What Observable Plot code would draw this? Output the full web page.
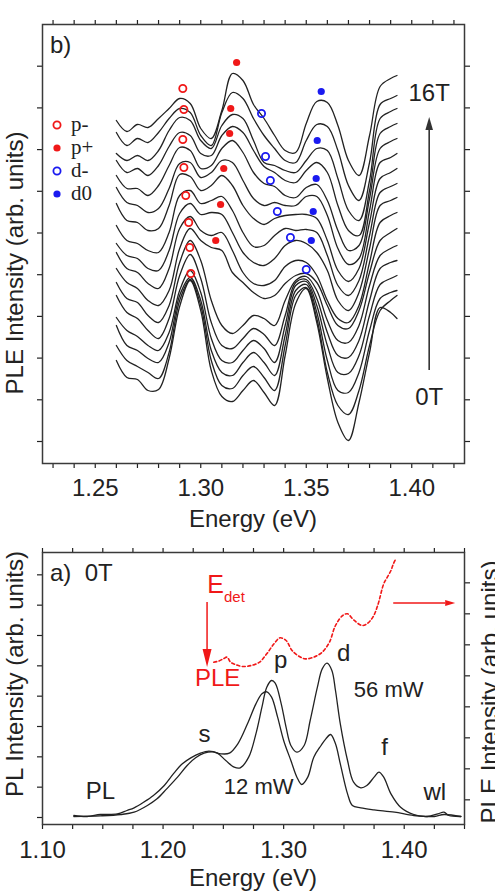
<!DOCTYPE html>
<html>
<head>
<meta charset="utf-8">
<script src="https://cdn.jsdelivr.net/npm/d3@7"></script>
<script src="https://cdn.jsdelivr.net/npm/@observablehq/plot@0.6"></script>
<style>
  html, body { margin: 0; padding: 0; background: #fff; }
  #figure { position: relative; width: 495px; height: 894px; overflow: hidden; background: #fff; }
  #figure svg { position: absolute; left: 0; overflow: visible; }
</style>
</head>
<body>
<div id="figure"></div>
<script>
const SANS = "'Liberation Sans', Arial, Helvetica, sans-serif";
const SERIF = "'Liberation Serif', 'Times New Roman', serif";
const RED = "#f01818";
const BLUE = "#1a1af0";
const INK = "#222";

// ---------- b) PLE spectra from 0 T (index 0) to 16 T (index 16), vertically offset ----------
const pleEnergy = [1.260,1.265,1.270,1.275,1.280,1.285,1.290,1.295,1.300,1.305,1.310,1.315,1.320,1.325,
                   1.330,1.335,1.340,1.345,1.350,1.355,1.360,1.365,1.370,1.375,1.380,1.385,1.390,1.393];
const pleSpectra = [
  [81,64,62,51,52,83,135,161,131,71,45,40,51,61,49,36,86,138,153,119,63,19,1,39,89,134,129,123],
  [96,81,75,69,63,89,141,162,136,81,56,53,66,75,64,51,96,146,154,123,69,36,27,51,96,131,141,146],
  [116,96,91,83,79,99,146,164,141,91,69,66,79,89,79,66,106,151,157,129,81,51,49,69,111,143,149,151],
  [124,111,105,96,91,109,151,171,149,103,81,79,91,101,93,79,116,156,160,136,96,69,68,86,126,157,163,166],
  [146,129,123,111,103,123,166,187,163,119,96,93,103,113,107,96,126,159,162,143,109,86,84,101,141,173,179,181],
  [159,143,139,126,119,136,179,201,181,141,116,108,116,126,123,116,141,161,165,151,121,101,99,116,156,186,193,196],
  [173,159,153,141,136,151,193,213,201,194,191,169,159,149,143,146,158,166,168,159,136,116,113,131,169,201,209,213],
  [189,173,169,158,153,173,213,225,211,206,209,191,169,158,156,161,175,181,179,166,141,123,119,136,179,219,226,229],
  [198,186,183,173,171,191,228,238,227,229,227,209,189,179,176,183,196,201,198,189,171,141,131,149,193,236,241,244],
  [216,201,198,191,189,209,246,251,238,241,245,231,209,195,196,206,213,211,212,209,186,156,146,161,206,249,255,258],
  [238,221,219,211,213,236,267,265,251,256,266,256,236,223,217,223,226,227,227,223,201,171,160,173,219,263,269,273],
  [254,239,236,229,233,253,278,279,264,269,281,279,261,243,236,239,236,236,245,245,226,193,177,183,231,279,284,288],
  [266,253,253,246,256,276,294,291,273,276,293,301,289,269,258,255,246,244,254,257,241,211,191,196,243,293,300,303],
  [281,269,273,266,276,295,309,306,288,286,306,315,309,291,275,269,261,259,271,279,269,236,211,206,251,308,315,318],
  [288,281,286,281,291,311,324,321,301,293,316,327,323,301,279,276,271,269,281,293,291,263,231,221,261,323,330,333],
  [309,296,303,299,309,323,333,329,306,296,329,349,343,323,306,293,281,279,301,317,315,291,256,241,279,337,343,346],
  [321,310,317,314,323,333,343,338,313,303,331,368,361,337,323,306,291,289,318,340,339,316,281,266,306,355,363,366]
];

// Peak assignments: [field (T), energy (eV), intensity]
const pMinusPeaks = [[16,1.2915,353],[14,1.2920,332],[12,1.2915,302],[10,1.2920,274],
                     [8,1.2929,246],[6,1.2943,219],[4,1.2948,194],[2,1.2953,168]];
const pPlusPeaks  = [[16,1.3170,379],[14,1.3142,333],[12,1.3137,308],[10,1.3109,273],
                     [8,1.3094,237],[6,1.3071,201]];
const dMinusPeaks = [[16,1.3288,328],[14,1.3307,285],[12,1.3330,261],[10,1.3363,230],
                     [8,1.3425,204],[6,1.3500,172]];
const dZeroPeaks  = [[16,1.3571,350],[14,1.3552,301],[12,1.3547,263],[10,1.3533,230],
                     [8,1.3524,201]];

const peakSeries = [
  {label: "p-", data: pMinusPeaks, color: RED,  filled: false},
  {label: "p+", data: pPlusPeaks,  color: RED,  filled: true},
  {label: "d-", data: dMinusPeaks, color: BLUE, filled: false},
  {label: "d0", data: dZeroPeaks,  color: BLUE, filled: true}
];

// ---------- a) PL at two excitation powers and PLE at 0 T ----------
const pl56Energy = [1.126,1.137,1.148,1.162,1.170,1.176,1.184,1.192,1.201,1.209,1.216,1.223,1.231,1.238,1.245,
                    1.252,1.259,1.264,1.271,1.277,1.282,1.286,1.290,1.293,1.298,1.302,1.306,1.311,1.317,1.322,
                    1.328,1.332,1.336,1.340,1.343,1.347,1.353,1.358,1.364,1.369,1.375,1.379,1.383,1.389,1.397,
                    1.408,1.419,1.428,1.433,1.437,1.447];
const pl56 = [6,3,9,11,21,29,46,66,96,133,161,179,193,199,193,171,151,149,181,251,331,391,411,403,341,271,216,
              196,216,291,391,446,463,441,381,281,171,106,89,96,121,136,121,71,31,9,3,11,16,6,3];

const pl12Energy = [1.126,1.148,1.165,1.176,1.187,1.195,1.203,1.212,1.220,1.227,1.234,1.241,1.248,1.255,1.262,
                    1.270,1.277,1.282,1.286,1.290,1.295,1.300,1.306,1.311,1.315,1.320,1.325,1.331,1.335,1.339,
                    1.343,1.347,1.353,1.357,1.364,1.375,1.392,1.408,1.425,1.433,1.447];
const pl12 = [3,5,9,16,36,56,86,121,156,179,193,197,191,193,221,281,341,371,377,361,301,231,171,121,99,121,181,
              216,236,249,221,161,71,36,29,23,16,6,3,9,3];

const ple0Energy = [1.242,1.246,1.250,1.253,1.256,1.260,1.266,1.273,1.280,1.286,1.292,1.297,1.302,1.307,1.313,
                    1.318,1.325,1.332,1.338,1.343,1.349,1.353,1.358,1.365,1.369,1.374,1.378,1.383,1.386,1.389,
                    1.391,1.393];
const ple0 = [466,469,476,481,466,459,453,456,466,491,521,539,531,501,483,476,481,496,526,576,606,611,593,576,
              581,601,636,701,721,741,761,776];

const plLabels = [
  {text: "p", E: 1.2975, I: 471, size: 24},
  {text: "d", E: 1.3498, I: 492, size: 24},
  {text: "s", E: 1.2344, I: 249, size: 24},
  {text: "f", E: 1.3838, I: 210, size: 24},
  {text: "56 mW", E: 1.3871, I: 384, size: 22},
  {text: "12 mW", E: 1.2793, I: 93, size: 22},
  {text: "PL", E: 1.1481, I: 78, size: 24},
  {text: "wl", E: 1.4253, I: 75, size: 24}
];

// ---------- helpers ----------
const tickLabel = step => d => (Math.round(d * 1000) % step === 0 ? d.toFixed(2) : "");
const noLabel = () => "";

function arrow(svg, x1, y1, x2, y2, color, headLen, headHalf, width) {
  const a = Math.atan2(y2 - y1, x2 - x1);
  const bx = x2 - headLen * Math.cos(a), by = y2 - headLen * Math.sin(a);
  const px = -Math.sin(a) * headHalf, py = Math.cos(a) * headHalf;
  const g = d3.select(svg).append("g");
  g.append("line").attr("x1", x1).attr("y1", y1).attr("x2", bx).attr("y2", by)
    .attr("stroke", color).attr("stroke-width", width);
  g.append("path").attr("d", `M${x2},${y2}L${bx + px},${by + py}L${bx - px},${by - py}Z`).attr("fill", color);
}

function label(svg, text, x, y, opts = {}) {
  const t = d3.select(svg).append("text")
    .attr("transform", `translate(${x},${y})${opts.rotate ? ` rotate(${opts.rotate})` : ""}`)
    .attr("text-anchor", opts.anchor || "middle")
    .attr("dy", opts.dy || "0.35em")
    .attr("font-family", opts.family || SANS)
    .attr("font-size", opts.size || 24)
    .attr("fill", opts.color || INK)
    .style("white-space", "pre")
    .text(text);
  return t;
}

const fig = document.getElementById("figure");
const plotStyle = {background: "transparent", color: INK, fontFamily: SANS, overflow: "visible"};

// ---------- panel b) ----------
const pleRows = pleSpectra.flatMap((vals, field) => vals.map((I, i) => ({E: pleEnergy[i], I, field})));
const topXTicks = d3.range(123, 143).map(k => k / 100);
const topYTicks = d3.range(10).map(k => k * 41.7);

const topPlot = Plot.plot({
  width: 495, height: 530,
  marginLeft: 42, marginRight: 31, marginTop: 24, marginBottom: 67,
  x: {domain: [1.225, 1.425]},
  y: {domain: [-22, 417]},
  style: plotStyle,
  marks: [
    Plot.axisX({anchor: "bottom", ticks: topXTicks, tickFormat: tickLabel(50), tickSize: 5, tickPadding: 10,
                fontSize: 24, label: null, strokeWidth: 1.2}),
    Plot.axisX({anchor: "top", ticks: topXTicks, tickFormat: noLabel, tickSize: 5, label: null, strokeWidth: 1.2}),
    Plot.axisY({anchor: "left", ticks: topYTicks, tickFormat: noLabel, tickSize: 5, label: null, strokeWidth: 1.2}),
    Plot.axisY({anchor: "right", ticks: topYTicks, tickFormat: noLabel, tickSize: 5, label: null, strokeWidth: 1.2}),
    Plot.frame({stroke: "#3a3a3a", strokeWidth: 1.5}),
    Plot.line(pleRows, {x: "E", y: "I", z: "field", stroke: INK, strokeWidth: 1.3, curve: "catmull-rom"}),
    ...peakSeries.map(s => Plot.dot(s.data, {
      x: d => d[1], y: d => d[2], r: 3.6,
      stroke: s.filled ? "none" : s.color, fill: s.filled ? s.color : "none", strokeWidth: 1.8
    }))
  ]
});
topPlot.style.top = "0px";
fig.appendChild(topPlot);

{
  const sx = topPlot.scale("x"), sy = topPlot.scale("y");
  label(topPlot, "Energy (eV)", 253, 519);
  label(topPlot, "PLE Intensity (arb. units)", 15, 263, {rotate: -90});
  label(topPlot, "b)", 50, 45, {anchor: "start"});
  // field sweep arrow
  const fieldArrow = {E: 1.4085, from: 71, to: 324};
  arrow(topPlot, sx.apply(fieldArrow.E), sy.apply(fieldArrow.from), sx.apply(fieldArrow.E), sy.apply(fieldArrow.to),
        "#333", 13, 3.8, 1.6);
  label(topPlot, "16T", sx.apply(fieldArrow.E), 93);
  label(topPlot, "0T", sx.apply(fieldArrow.E), 397);
  // legend
  const rowsY = [125, 148, 171, 194];
  peakSeries.forEach((s, i) => {
    d3.select(topPlot).append("circle").attr("cx", 57).attr("cy", rowsY[i]).attr("r", 3.6)
      .attr("fill", s.filled ? s.color : "none").attr("stroke", s.filled ? "none" : s.color).attr("stroke-width", 1.8);
    label(topPlot, s.label, 71, rowsY[i] + 6, {anchor: "start", family: SERIF, size: 21, dy: "0"});
  });
}

// ---------- panel a) ----------
const pl56Rows = pl56Energy.map((E, i) => ({E, I: pl56[i]}));
const pl12Rows = pl12Energy.map((E, i) => ({E, I: pl12[i]}));
const ple0Rows = ple0Energy.map((E, i) => ({E, I: ple0[i]}));
const botXTicks = d3.range(15).map(k => 1.10 + k * 0.025);
const plTicks = d3.range(9).map(k => k * 91);
const pleTicks = d3.range(8).map(k => 53 + k * 93);

const botPlot = Plot.plot({
  width: 495, height: 364,
  marginLeft: 42, marginRight: 31, marginTop: 22, marginBottom: 70,
  x: {domain: [1.10, 1.45]},
  y: {domain: [-21, 795]},
  style: plotStyle,
  marks: [
    Plot.axisX({anchor: "bottom", ticks: botXTicks, tickFormat: tickLabel(100), tickSize: 5, tickPadding: 11,
                fontSize: 24, label: null, strokeWidth: 1.2}),
    Plot.axisX({anchor: "top", ticks: botXTicks, tickFormat: noLabel, tickSize: 5, label: null, strokeWidth: 1.2}),
    Plot.axisY({anchor: "left", ticks: plTicks, tickFormat: noLabel, tickSize: 5, label: null, strokeWidth: 1.2}),
    Plot.axisY({anchor: "right", ticks: pleTicks, tickFormat: noLabel, tickSize: 5, label: null, strokeWidth: 1.2}),
    Plot.frame({stroke: "#3a3a3a", strokeWidth: 1.5}),
    Plot.line(pl56Rows, {x: "E", y: "I", stroke: INK, strokeWidth: 1.3, curve: "catmull-rom"}),
    Plot.line(pl12Rows, {x: "E", y: "I", stroke: INK, strokeWidth: 1.3, curve: "catmull-rom"}),
    Plot.line(ple0Rows, {x: "E", y: "I", stroke: RED, strokeWidth: 1.6, strokeDasharray: "3,2.5", curve: "catmull-rom"}),
    Plot.text(plLabels, {x: "E", y: "I", text: "text", fontSize: d => d.size, fill: INK}),
    Plot.text(["PLE"], {x: 1.2452, y: 417, fill: RED, fontSize: 24}),
    Plot.text(["E"], {x: 1.2436, y: 699, fill: RED, fontSize: 25}),
    Plot.text(["det"], {x: 1.2505, y: 660, fill: RED, fontSize: 15, textAnchor: "start"})
  ]
});
botPlot.style.top = "530px";
fig.appendChild(botPlot);

{
  const sx = botPlot.scale("x"), sy = botPlot.scale("y");
  label(botPlot, "Energy (eV)", 253, 348);
  label(botPlot, "PL Intensity (arb. units)", 15, 144, {rotate: -90});
  label(botPlot, "PLE Intensity (arb. units)", 490, 162, {rotate: -90});
  label(botPlot, "a)  0T", 50, 43, {anchor: "start"});
  // detection energy marker and axis pointer
  const detArrow = {E: 1.2369, from: 645, to: 450};
  arrow(botPlot, sx.apply(detArrow.E), sy.apply(detArrow.from), sx.apply(detArrow.E), sy.apply(detArrow.to),
        RED, 18, 4.5, 1.5);
  const axisPointer = {I: 642, from: 1.3913, to: 1.4427};
  arrow(botPlot, sx.apply(axisPointer.from), sy.apply(axisPointer.I), sx.apply(axisPointer.to), sy.apply(axisPointer.I),
        RED, 10, 3, 1.5);
}
</script>
</body>
</html>
